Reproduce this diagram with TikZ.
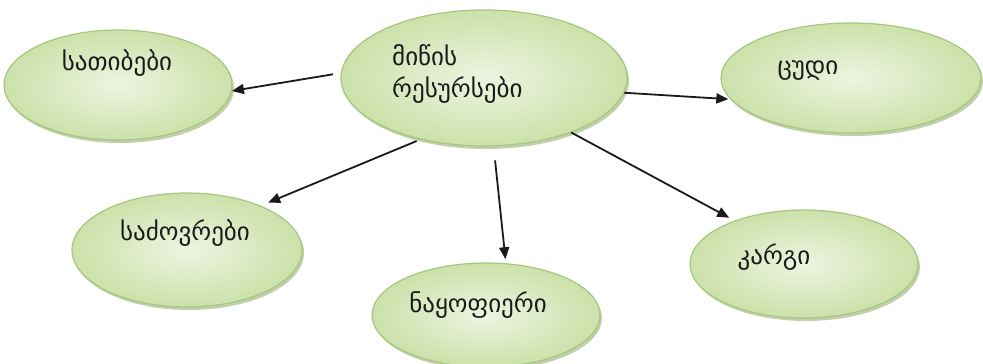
\documentclass[tikz,border=0pt]{standalone}
\usepackage{fontspec}
\newfontfamily\geofont{DejaVu Sans}
\usepackage{tikz}
\usetikzlibrary{arrows.meta,shapes.geometric,shadows}
\definecolor{Ink}{HTML}{1A1A1A}
\definecolor{LeafEdge}{HTML}{A6C77E}
\definecolor{LeafDeep}{HTML}{CCE1AA}
\definecolor{LeafPale}{HTML}{EDF4E1}
\definecolor{LeafShade}{HTML}{8EA767}
\tikzset{
  field/.style={ellipse,draw=LeafEdge,line width=1.2pt,inner color=LeafPale,outer color=LeafDeep,
    drop shadow={shadow xshift=2pt,shadow yshift=-3pt,fill=LeafShade,opacity=.55}},
  word/.style={text=Ink,font=\geofont\fontsize{25}{32}\selectfont,inner sep=0pt},
  link/.style={-{Triangle[length=12pt,width=10pt]},draw=Ink,line width=1.8pt}
}
\begin{document}
\begin{tikzpicture}[x=1pt,y=-1pt]
      \useasboundingbox (0,0) rectangle (983,364);
      \node[field,minimum width=286pt,minimum height=136pt] (land) at (484,78) {};
      \node[field,minimum width=228pt,minimum height=110pt] (hay) at (118,85) {};
      \node[field,minimum width=260pt,minimum height=110pt] (poor) at (851,78) {};
      \node[field,minimum width=230pt,minimum height=114pt] (pasture) at (187,250) {};
      \node[field,minimum width=228pt,minimum height=108pt] (good) at (804,264) {};
      \node[field,minimum width=228pt,minimum height=104pt] (fertile) at (486,315) {};
      \node[word,anchor=west,align=left] (landT) at (392,74) {მიწის\\რესურსები};
      \node[word] (hayT) at (117,63) {სათიბები};
      \node[word] (poorT) at (808,70) {ცუდი};
      \node[word] (pastureT) at (185,233) {საძოვრები};
      \node[word] (goodT) at (774,257) {კარგი};
      \node[word] (fertileT) at (478,305) {ნაყოფიერი};
      \draw[link,shorten <=8pt] (land.178) -- (hay.-3);
      \draw[link,shorten >=2pt] (land.-6) -- (poor.190);
      \draw[link,shorten <=4pt,shorten >=8pt] (land.224) -- (pasture.31);
      \draw[link,shorten <=14pt,shorten >=4pt] (land.278) -- (fertile.69);
      \draw[link,shorten >=6pt] (land.-32) -- (good.148);
    \end{tikzpicture}
\end{document}
